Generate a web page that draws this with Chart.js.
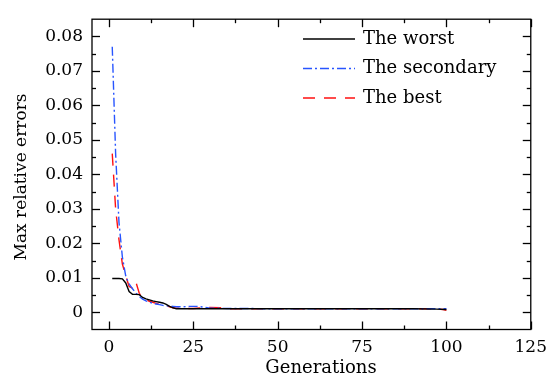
<!DOCTYPE html>
<html>
<head>
<meta charset="utf-8">
<script src="https://cdn.jsdelivr.net/npm/chart.js@4/dist/chart.umd.min.js"></script>
<style>
  html, body { margin: 0; padding: 0; background: #fff; }
  #wrap { width: 555px; height: 383px; }
</style>
</head>
<body>
<div id="wrap"><canvas id="c" width="555" height="383"></canvas></div>
<script>
const seriesNames = ['The worst', 'The secondary', 'The best'];
const xTitle = 'Generations';
const yTitle = 'Max relative errors';

const worstGen = [1, 2, 3, 4, 5, 6, 7, 8, 9, 10, 11, 12, 13, 14, 15, 16, 17, 18, 19, 20, 21, 25, 30, 40, 50, 60, 70, 80, 90, 97, 100];
const worstErr = [0.0098, 0.0098, 0.0098, 0.0097, 0.0085, 0.0060, 0.0052, 0.0052, 0.0051, 0.0043, 0.0039, 0.0036, 0.0033, 0.0031, 0.0029, 0.0027, 0.0023, 0.0017, 0.0013, 0.0010, 0.0010, 0.0010, 0.0010, 0.0010, 0.0010, 0.0010, 0.0010, 0.0010, 0.0010, 0.0009, 0.0008];

const secGen = [1, 2, 3, 4, 5, 6, 7, 8, 9, 10, 11, 12, 13, 14, 15, 16, 17, 18, 19, 20, 22, 24, 26, 28, 30, 35, 40, 50, 60, 70, 80, 90, 100];
const secErr = [0.077, 0.046, 0.026, 0.016, 0.0105, 0.0082, 0.0068, 0.0056, 0.0046, 0.0038, 0.0033, 0.0029, 0.0026, 0.0024, 0.0022, 0.0020, 0.0019, 0.0018, 0.0017, 0.0016, 0.0016, 0.0017, 0.0017, 0.0015, 0.0012, 0.0011, 0.0011, 0.0010, 0.0010, 0.0010, 0.0010, 0.0010, 0.0010];

const bestGen = [1, 2, 3, 4, 5, 6, 7, 8, 9, 10, 11, 12, 13, 14, 15, 16, 17, 18, 19, 20, 22, 25, 28, 30, 33, 36, 40, 50, 60, 70, 80, 90, 97, 99, 100];
const bestErr = [0.046, 0.030, 0.021, 0.014, 0.0105, 0.0075, 0.0070, 0.0088, 0.0055, 0.0042, 0.0036, 0.0032, 0.0029, 0.0026, 0.0023, 0.0021, 0.0019, 0.0016, 0.0013, 0.0012, 0.0011, 0.0011, 0.0013, 0.0014, 0.0013, 0.0010, 0.0010, 0.0010, 0.0010, 0.0010, 0.0010, 0.0010, 0.0010, 0.0008, 0.0006];

const xTicks = [0, 25, 50, 75, 100, 125];
const yTicks = [0, 0.01, 0.02, 0.03, 0.04, 0.05, 0.06, 0.07, 0.08];
const yTickLabels = ['0', '0.01', '0.02', '0.03', '0.04', '0.05', '0.06', '0.07', '0.08'];

const serif = "'DejaVu Serif', serif";
Chart.defaults.font.family = serif;
Chart.defaults.font.size = 17;
Chart.defaults.color = '#000';

function points(xs, ys) {
    return xs.map((x, i) => ({ x, y: ys[i] }));
}

// box with inward ticks on all four sides, like the LaTeX plot
const frameTicks = {
    id: 'frameTicks',
    afterDraw(chart) {
        const { ctx, chartArea: a, scales: { x, y } } = chart;
        ctx.save();
        ctx.strokeStyle = '#000';
        ctx.lineWidth = 1.3;
        ctx.strokeRect(a.left, a.top, a.right - a.left, a.bottom - a.top);
        const major = 8, minor = 4;
        const tick = (x1, y1, x2, y2) => {
            ctx.beginPath();
            ctx.moveTo(x1, y1);
            ctx.lineTo(x2, y2);
            ctx.stroke();
        };
        const xs = [], ys = [];
        xTicks.forEach((v, i) => {
            xs.push([v, major]);
            if (i < xTicks.length - 1) xs.push([(v + xTicks[i + 1]) / 2, minor]);
        });
        yTicks.forEach((v, i) => {
            ys.push([v, major]);
            if (i < yTicks.length - 1) ys.push([(v + yTicks[i + 1]) / 2, minor]);
        });
        xs.forEach(([v, len]) => {
            const px = Math.round(x.getPixelForValue(v)) + 0.5;
            tick(px, a.bottom, px, a.bottom - len);
            tick(px, a.top, px, a.top + len);
        });
        ys.forEach(([v, len]) => {
            const py = Math.round(y.getPixelForValue(v)) + 0.5;
            tick(a.left, py, a.left + len, py);
            tick(a.right, py, a.right - len, py);
        });
        ctx.restore();
    }
};

// axis titles sit a little off-centre in the original
const axisTitles = {
    id: 'axisTitles',
    afterDraw(chart) {
        const { ctx } = chart;
        ctx.save();
        ctx.font = '18px ' + serif;
        ctx.fillStyle = '#000';
        ctx.textAlign = 'center';
        ctx.textBaseline = 'middle';
        ctx.fillText(xTitle, 321, 368);
        ctx.font = '17px ' + serif;
        ctx.translate(22, 177);
        ctx.rotate(-Math.PI / 2);
        ctx.fillText(yTitle, 0, 0);
        ctx.restore();
    }
};

const lineLegend = {
    id: 'lineLegend',
    afterDraw(chart) {
        const { ctx } = chart;
        ctx.save();
        ctx.font = '18px ' + serif;
        ctx.textBaseline = 'middle';
        ctx.fillStyle = '#000';
        chart.data.datasets.forEach((ds, i) => {
            const yy = 39 + i * 29.5;
            ctx.strokeStyle = ds.borderColor;
            ctx.lineWidth = ds.borderWidth;
            ctx.setLineDash(ds.borderDash || []);
            ctx.beginPath();
            ctx.moveTo(303, yy);
            ctx.lineTo(355, yy);
            ctx.stroke();
            ctx.fillText(ds.label, 363, yy);
        });
        ctx.restore();
    }
};

const whiteBackground = {
    id: 'whiteBackground',
    beforeDraw(chart) {
        const { ctx } = chart;
        ctx.save();
        ctx.globalCompositeOperation = 'destination-over';
        ctx.fillStyle = 'white';
        ctx.fillRect(0, 0, chart.width, chart.height);
        ctx.restore();
    }
};

new Chart(document.getElementById('c'), {
    type: 'line',
    data: {
        datasets: [{
            label: seriesNames[0],
            data: points(worstGen, worstErr),
            borderColor: '#000000',
            borderWidth: 1.4
        }, {
            label: seriesNames[1],
            data: points(secGen, secErr),
            borderColor: '#2855ff',
            borderWidth: 1.4,
            borderDash: [9, 3, 2, 3]
        }, {
            label: seriesNames[2],
            data: points(bestGen, bestErr),
            borderColor: '#ff1010',
            borderWidth: 1.4,
            borderDash: [12, 9]
        }]
    },
    options: {
        responsive: false,
        animation: false,
        events: [],
        layout: { padding: { top: 4, right: 22, left: 0, bottom: 0 } },
        elements: { point: { radius: 0 }, line: { tension: 0 } },
        scales: {
            x: {
                type: 'linear',
                min: -5,
                max: 125,
                grid: { display: false, drawTicks: false },
                border: { display: false },
                afterBuildTicks: (s) => { s.ticks = xTicks.map(v => ({ value: v })); },
                afterFit: (s) => { s.height = 53.5; },
                ticks: { padding: 8, maxRotation: 0, callback: (v) => String(v) }
            },
            y: {
                min: -0.005,
                max: 0.085,
                grid: { display: false, drawTicks: false },
                border: { display: false },
                afterBuildTicks: (s) => { s.ticks = yTicks.map(v => ({ value: v })); },
                afterFit: (s) => { s.width = 92; },
                ticks: {
                    padding: 9,
                    callback: (v) => yTickLabels[yTicks.findIndex(t => Math.abs(t - v) < 1e-9)]
                }
            }
        },
        plugins: {
            legend: { display: false },
            tooltip: { enabled: false }
        }
    },
    plugins: [whiteBackground, frameTicks, axisTitles, lineLegend]
});
</script>
</body>
</html>
